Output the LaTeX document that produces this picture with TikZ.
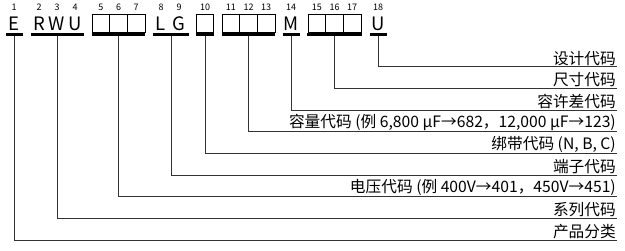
\documentclass[tikz,border=0pt]{standalone}
\usepackage{fontspec}
\setmainfont{Noto Sans CJK SC}
\usetikzlibrary{positioning}

\begin{document}
\begin{tikzpicture}[x=1pt, y=-1pt,
		digit/.style={font=\fontsize{9}{9}\selectfont, inner sep=0pt},
		letter/.style={font=\fontsize{18.5}{18.5}\selectfont, inner sep=0pt},
		cell/.style={draw, line width=0.9pt, minimum width=17.7pt,
			minimum height=18pt, inner sep=0pt},
		bar/.style={line width=2.4pt},
		lead/.style={line width=0.9pt, black!80},
		code/.style={anchor=south east, inner sep=1pt,
			font=\fontsize{15.7}{16}\selectfont}]
	\useasboundingbox (0,0) rectangle (625,250);
	% position numbers above the code
	\foreach \n/\x in {1/14, 2/39, 3/57, 4/75, 5/100.8, 6/118.5, 7/136.2,
		8/161, 9/179, 10/205, 11/230.8, 12/248.5, 13/266.2, 14/291,
		15/316.8, 16/334.5, 17/352.2, 18/378}
	\node[digit] (d\n) at (\x,7) {\n};
	% fixed letters of the code
	\node[letter] (cE) at (14,23.5) {E};
	\node[letter] (cR) at (39,23.5) {R};
	\node[letter] (cW) at (57,23.5) {W};
	\node[letter] (cU) at (75,23.5) {U};
	\node[letter] (cL) at (161,23.5) {L};
	\node[letter] (cG) at (179,23.5) {G};
	\node[letter] (cM) at (291,23.5) {M};
	\node[letter] (cUe) at (378,23.5) {U};
	% empty cells for the variable positions
	\foreach \n/\x in {5/100.8, 6/118.5, 7/136.2, 10/205, 11/230.8,
		12/248.5, 13/266.2, 15/316.8, 16/334.5, 17/352.2}
	\node[cell] (c\n) at (\x,23) {};
	% bars under each group, with the start of its lead
	\draw[bar] (6,34.5) -- (23,34.5);
	\coordinate (b1) at (14,35.5);
	\draw[bar] (31,34.5) -- (84,34.5);
	\coordinate (b2) at (57.5,35.5);
	\draw[bar] (92,34.5) -- (145,34.5);
	\coordinate (b5) at (118.5,35.5);
	\draw[bar] (153,34.5) -- (189,34.5);
	\coordinate (b8) at (171,35.5);
	\draw[bar] (196,34.5) -- (214,34.5);
	\coordinate (b10) at (205,35.5);
	\draw[bar] (222,34.5) -- (275,34.5);
	\coordinate (b11) at (248.5,35.5);
	\draw[bar] (283,34.5) -- (300,34.5);
	\coordinate (b14) at (291,35.5);
	\draw[bar] (307,34.5) -- (362,34.5);
	\coordinate (b15) at (334.5,35.5);
	\draw[bar] (370,34.5) -- (387,34.5);
	\coordinate (b18) at (378,35.5);
	% meaning of each group, read from the right
	\node[code] (l18) at (617,66.7) {设计代码};
	\node[code] (l15) at (617,88.3) {尺寸代码};
	\node[code] (l14) at (617,110) {容许差代码};
	\node[code] (l11) at (617,131.7) {容量代码 (例 6,800 µF→682，12,000 µF→123)};
	\node[code] (l10) at (617,153.3) {绑带代码 (N, B, C)};
	\node[code] (l8) at (617,175) {端子代码};
	\node[code] (l5) at (617,196.7) {电压代码 (例 400V→401，450V→451)};
	\node[code] (l2) at (617,218.3) {系列代码};
	\node[code] (l1) at (617,240) {产品分类};
	% leads from the bars to the lines under the texts
	\draw[lead] (b18) |- (l18.south east);
	\draw[lead] (b15) |- (l15.south east);
	\draw[lead] (b14) |- (l14.south east);
	\draw[lead] (b11) |- (l11.south east);
	\draw[lead] (b10) |- (l10.south east);
	\draw[lead] (b8) |- (l8.south east);
	\draw[lead] (b5) |- (l5.south east);
	\draw[lead] (b2) |- (l2.south east);
	\draw[lead] (b1) |- (l1.south east);
\end{tikzpicture}
\end{document}
